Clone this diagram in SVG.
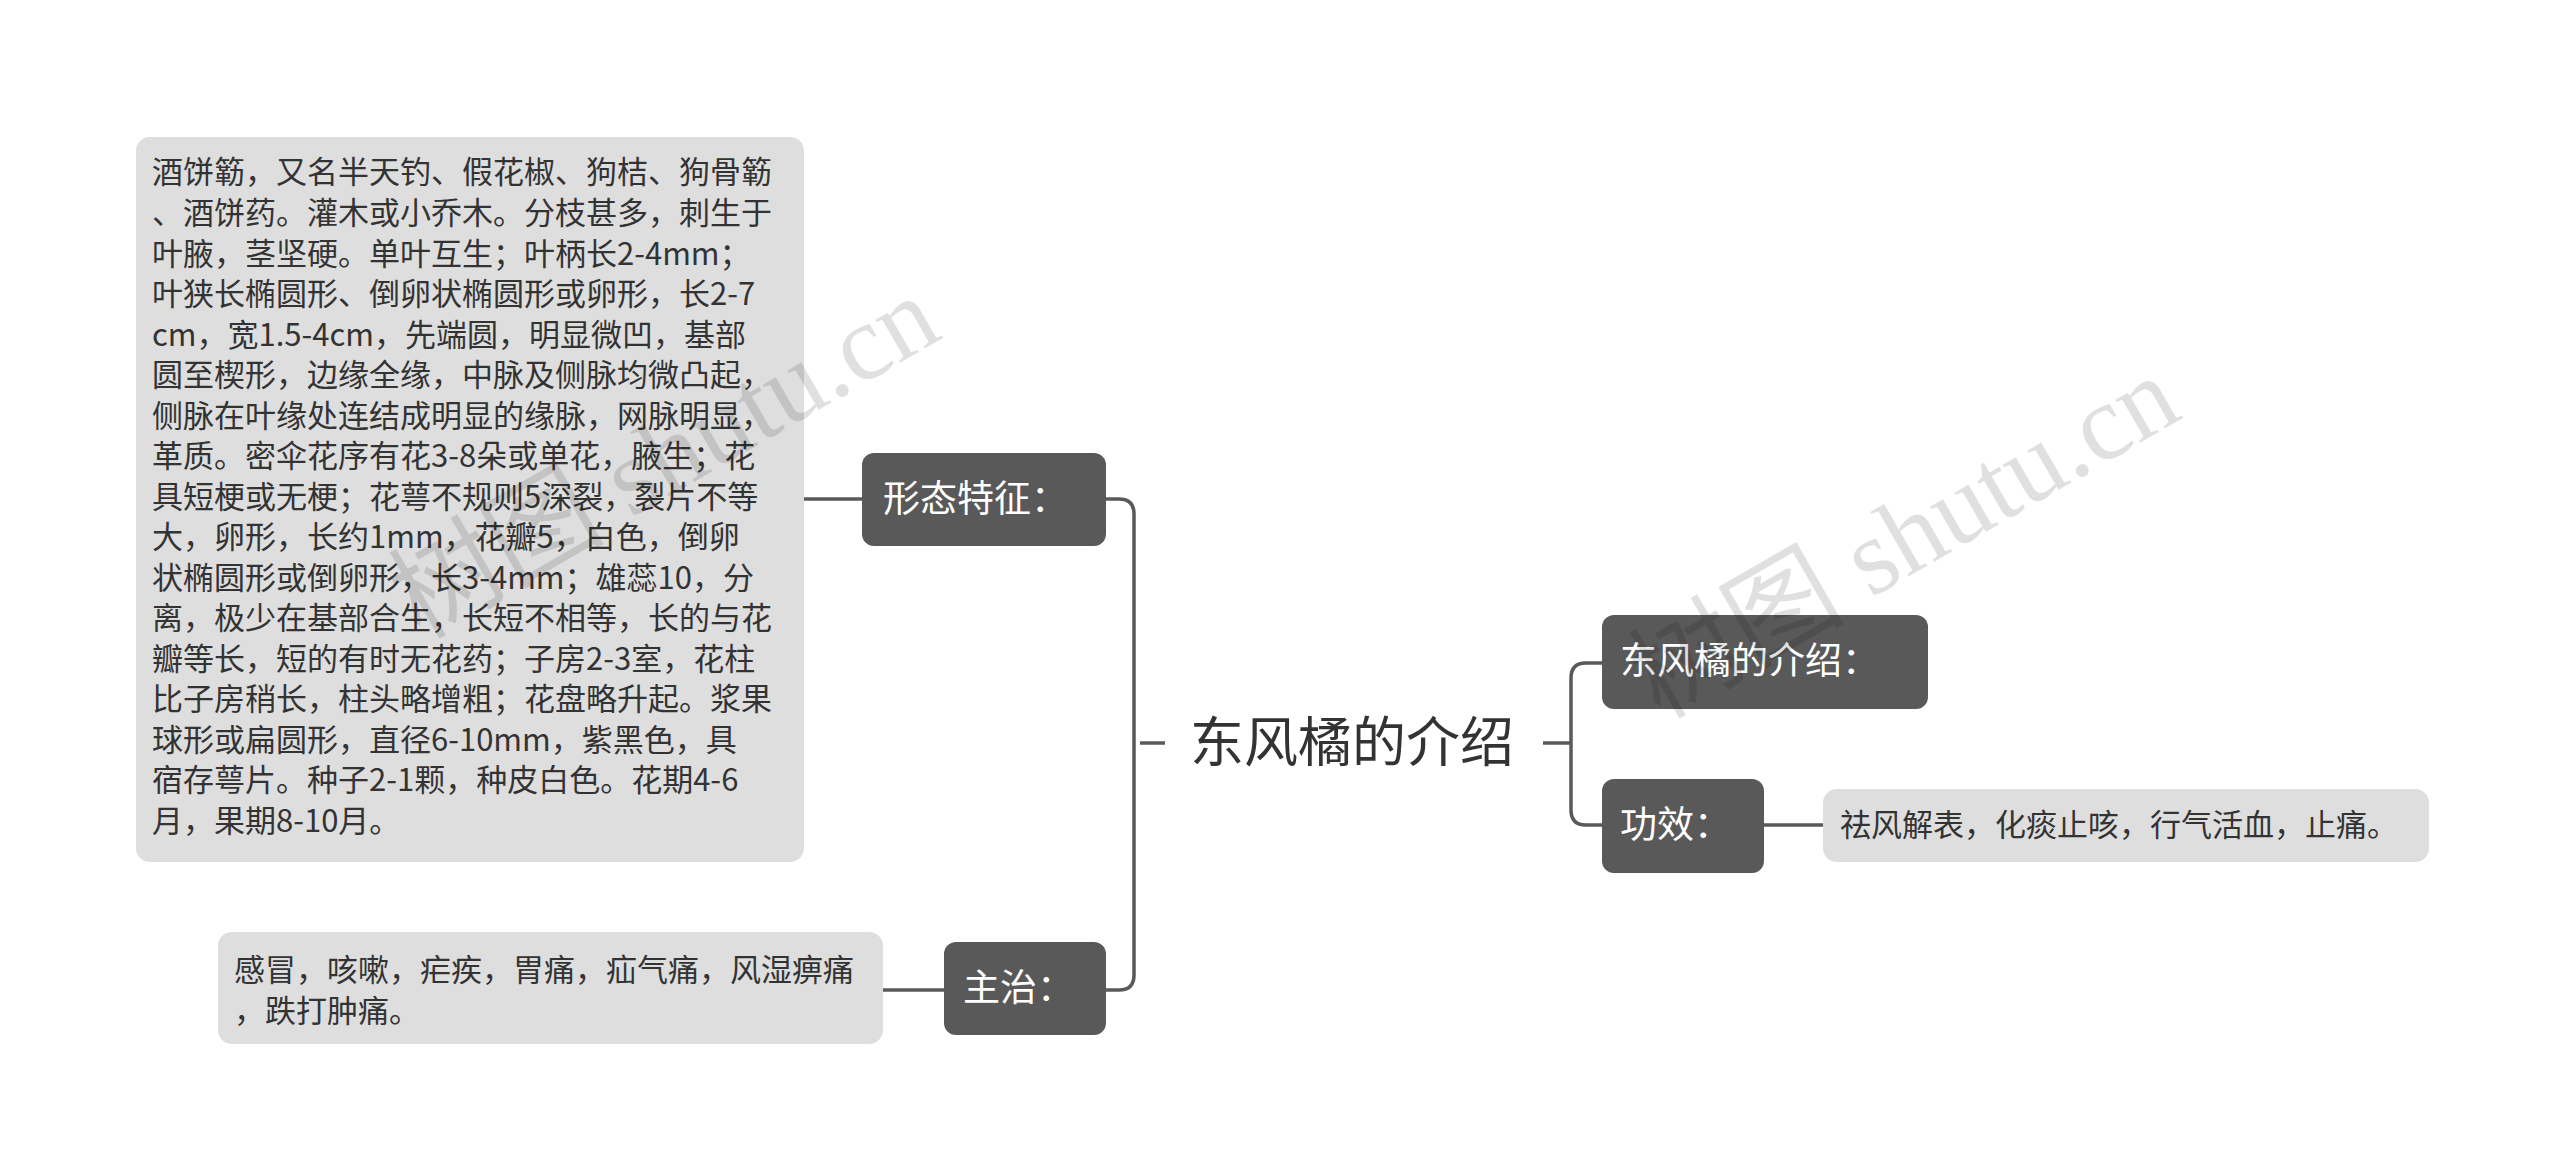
<svg xmlns="http://www.w3.org/2000/svg" width="2560" height="1176" viewBox="0 0 2560 1176">
<style>
.dk{fill:#595959}
.lt{fill:#dedede}
.wt{fill:#fff;font-family:"Noto Sans CJK SC","Noto Sans",sans-serif;font-size:37px}
.bt{fill:#333;font-family:"Noto Sans CJK SC","Noto Sans",sans-serif;font-size:31px}
.rt{fill:#333;font-family:"Noto Sans CJK SC","Noto Sans",sans-serif;font-size:54px}
.ln{fill:none;stroke:#595959;stroke-width:3.5}
.wm{fill:#000;fill-opacity:0.12;font-family:"Liberation Serif","Noto Sans CJK SC",serif;font-size:108px}
</style>
<g id="connectors">
<path class="ln" d="M804 499H862"/>
<path class="ln" d="M1106 499H1119Q1134 499 1134 514V975Q1134 990 1119 990H1106"/>
<path class="ln" d="M883 990H944"/>
<path class="ln" d="M1140 743H1165"/>
<path class="ln" d="M1543 743H1570"/>
<path class="ln" d="M1602 663H1586Q1571 663 1571 678V810Q1571 825 1586 825H1602"/>
<path class="ln" d="M1764 825H1823"/>
</g>
<g id="root"><text class="rt" x="1190" y="762">东风橘的介绍</text></g>
<g id="n1"><rect class="dk" x="862" y="453" width="244" height="93" rx="12"/><text class="wt" x="883" y="512">形态特征：</text></g>
<g id="n1leaf"><rect class="lt" x="136" y="137" width="668" height="725" rx="14"/>
<text class="bt" x="152">
<tspan x="152" y="183">酒饼簕，又名半天钓、假花椒、狗桔、狗骨簕</tspan>
<tspan x="152" y="224">、酒饼药。灌木或小乔木。分枝甚多，刺生于</tspan>
<tspan x="152" y="265">叶腋，茎坚硬。单叶互生；叶柄长2-4mm；</tspan>
<tspan x="152" y="305">叶狭长椭圆形、倒卵状椭圆形或卵形，长2-7</tspan>
<tspan x="152" y="346">cm，宽1.5-4cm，先端圆，明显微凹，基部</tspan>
<tspan x="152" y="386">圆至楔形，边缘全缘，中脉及侧脉均微凸起，</tspan>
<tspan x="152" y="427">侧脉在叶缘处连结成明显的缘脉，网脉明显，</tspan>
<tspan x="152" y="467">革质。密伞花序有花3-8朵或单花，腋生；花</tspan>
<tspan x="152" y="508">具短梗或无梗；花萼不规则5深裂，裂片不等</tspan>
<tspan x="152" y="548">大，卵形，长约1mm，花瓣5，白色，倒卵</tspan>
<tspan x="152" y="589">状椭圆形或倒卵形，长3-4mm；雄蕊10，分</tspan>
<tspan x="152" y="629">离，极少在基部合生，长短不相等，长的与花</tspan>
<tspan x="152" y="670">瓣等长，短的有时无花药；子房2-3室，花柱</tspan>
<tspan x="152" y="710">比子房稍长，柱头略增粗；花盘略升起。浆果</tspan>
<tspan x="152" y="751">球形或扁圆形，直径6-10mm，紫黑色，具</tspan>
<tspan x="152" y="791">宿存萼片。种子2-1颗，种皮白色。花期4-6</tspan>
<tspan x="152" y="832">月，果期8-10月。</tspan>
</text></g>
<g id="n2"><rect class="dk" x="944" y="942" width="162" height="93" rx="12"/><text class="wt" x="963" y="1001">主治：</text></g>
<g id="n2leaf"><rect class="lt" x="218" y="932" width="665" height="112" rx="14"/>
<text class="bt"><tspan x="234" y="981">感冒，咳嗽，疟疾，胃痛，疝气痛，风湿痹痛</tspan><tspan x="234" y="1022">，跌打肿痛。</tspan></text></g>
<g id="n3"><rect class="dk" x="1602" y="615" width="326" height="94" rx="12"/><text class="wt" x="1620" y="674">东风橘的介绍：</text></g>
<g id="n4"><rect class="dk" x="1602" y="779" width="162" height="94" rx="12"/><text class="wt" x="1620" y="838">功效：</text></g>
<g id="n4leaf"><rect class="lt" x="1823" y="789" width="606" height="73" rx="14"/><text class="bt" x="1840" y="836">祛风解表，化痰止咳，行气活血，止痛。</text></g>
<g id="watermarks">
<text class="wm" transform="translate(420 640) rotate(-30)">树图 shutu.cn</text>
<text class="wm" transform="translate(1660 720) rotate(-30)">树图 shutu.cn</text>
</g>
</svg>
